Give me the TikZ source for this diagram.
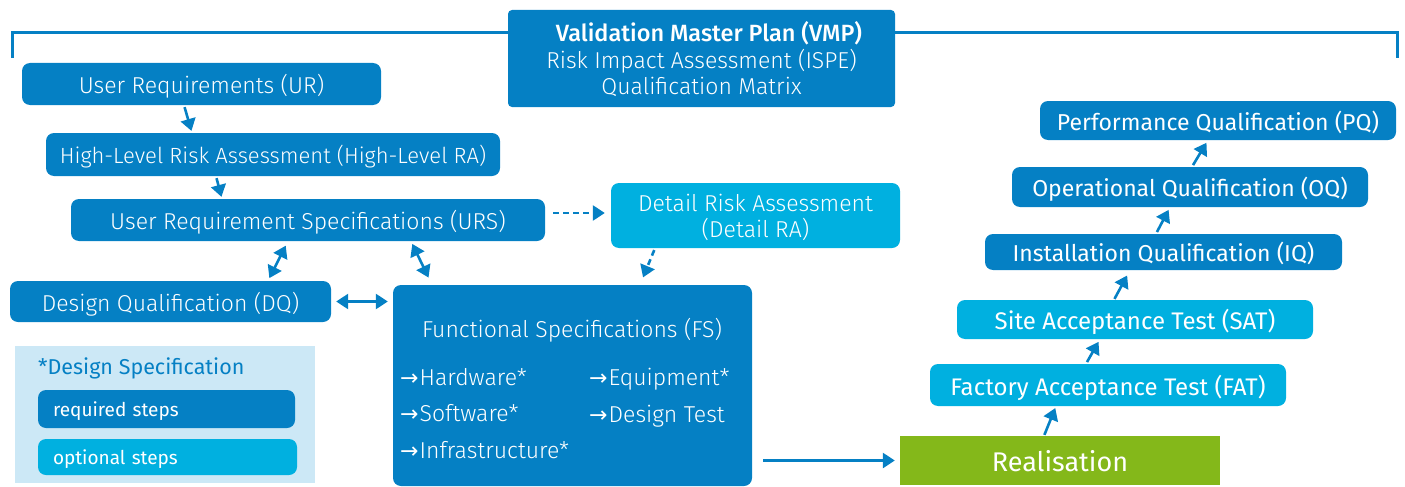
\documentclass[tikz,border=0pt]{standalone}
\usepackage{fontspec}
\setmainfont{Fira Sans}
\newfontfamily\lite{Fira Sans Light}
\newfontfamily\med{Fira Sans Medium}
\newfontfamily\arrf{DejaVu Sans}
\newcommand{\ar}{{\arrf\fontsize{22}{24}\selectfont →}\hspace{1pt}}
\usetikzlibrary{arrows.meta,calc}
\definecolor{dblue}{HTML}{0580C4}
\definecolor{lblue}{HTML}{00B0E0}
\definecolor{legbg}{HTML}{CCE8F6}
\definecolor{green}{HTML}{84B81A}
\tikzset{
  box/.style={rounded corners=8pt, inner sep=0pt, text=white, align=center, text depth=0pt},
  dbox/.style={box, fill=dblue},
  lbox/.style={box, fill=lblue},
  con/.style={draw=dblue, line width=2.6pt, -{Triangle[length=12pt,width=15pt]}},
  dcon/.style={draw=dblue, line width=2.6pt, {Triangle[length=12pt,width=15pt]}-{Triangle[length=12pt,width=15pt]}},
  dashcon/.style={con, dashed, dash pattern=on 6pt off 4pt},
  lt/.style={font=\lite\fontsize{23}{26}\selectfont},
  rt/.style={font=\fontsize{23}{26}\selectfont},
  item/.style={text=white, anchor=base west, inner sep=0pt, lt},
}
\begin{document}
\begin{tikzpicture}[x=1pt,y=-1pt]
\useasboundingbox (0,0) rectangle (1405,487);
% bracket
\draw[dblue, line width=3pt] (12,58) -- (12,33) -- (1397,33) -- (1397,58);
% VMP
\node[box, fill=dblue, rounded corners=4pt, minimum width=387pt, minimum height=97pt] (vmp) at (701.5,58.5) {};
\node[text=white, inner sep=0pt, anchor=base, font=\med\fontsize{23.5}{26}\selectfont] (vmp1) at (709,42) {Validation Master Plan (VMP)};
\node[text=white, inner sep=0pt, anchor=base, lt] (vmp2) at (701.5,68) {Risk Impact Assessment (ISPE)};
\node[text=white, inner sep=0pt, anchor=base, lt] (vmp3) at (701.5,94) {Qualification Matrix};
% left column
\node[dbox, minimum width=359pt, minimum height=42pt, lt] (ur) at (201.5,84) {User Requirements (UR)};
\node[dbox, minimum width=454pt, minimum height=43pt, font=\lite\fontsize{22}{24}\selectfont] (hlra) at (273,154.5) {High-Level Risk Assessment (High-Level RA)};
\node[dbox, minimum width=474pt, minimum height=42pt, lt] (urs) at (308,220) {User Requirement Specifications (URS)};
\node[lbox, minimum width=289pt, minimum height=65pt, lt] (dra) at (755.5,215.5) {Detail Risk Assessment\\(Detail RA)};
\node[dbox, minimum width=321pt, minimum height=41pt, lt] (dq) at (170.5,301.5) {Design Qualification (DQ)};
\node[dbox, minimum width=359pt, minimum height=201pt] (fs) at (572.5,385.5) {};
\node[text=white, inner sep=0pt, anchor=base, lt] (fst) at (572,337) {Functional Specifications (FS)};
\node[item] (hw) at (400,385) {\ar Hardware*};
\node[item] (sw) at (400,421) {\ar Software*};
\node[item] (inf) at (400,458) {\ar Infrastructure*};
\node[item] (eq) at (589,385) {\ar Equipment*};
\node[item] (dt) at (589,422) {\ar Design Test};
% legend
\node[fill=legbg, minimum width=300pt, minimum height=137pt, inner sep=0pt] (leg) at (165,414.5) {};
\node[text=dblue, anchor=base west, inner sep=0pt, font=\fontsize{21.5}{24}\selectfont] (legt) at (38,374) {*Design Specification};
\node[dbox, minimum width=257pt, minimum height=38pt, text width=227pt, align=left, font=\fontsize{19}{22}\selectfont] (req) at (166.5,409) {required steps};
\node[lbox, minimum width=259pt, minimum height=36pt, text width=229pt, align=left, font=\fontsize{19}{22}\selectfont] (opt) at (167.5,457) {optional steps};
% right column
\node[fill=green, text=white, inner sep=0pt, text depth=0pt, minimum width=320pt, minimum height=49pt, font=\fontsize{27}{30}\selectfont] (real) at (1060,460.5) {Realisation};
\node[lbox, minimum width=356pt, minimum height=42pt, font=\fontsize{24}{26}\selectfont] (fat) at (1108,385) {Factory Acceptance Test (FAT)};
\node[lbox, minimum width=356pt, minimum height=39pt, font=\fontsize{24}{26}\selectfont] (sat) at (1135,319.5) {Site Acceptance Test (SAT)};
\node[dbox, minimum width=357pt, minimum height=36pt, rt] (iq) at (1163.5,252) {Installation Qualification (IQ)};
\node[dbox, minimum width=356pt, minimum height=40pt, rt] (oq) at (1190,187) {Operational Qualification (OQ)};
\node[dbox, minimum width=356pt, minimum height=39pt, rt] (pq) at (1218,120.5) {Performance Qualification (PQ)};
% connectors
\draw[con, shorten <=2pt, shorten >=2pt] ([xshift=-17.5pt]ur.south) -- ([xshift=-81pt]hlra.north);
\draw[con, shorten <=2pt, shorten >=2pt] ([xshift=-57pt]hlra.south) -- ([xshift=-86pt]urs.north);
\draw[dcon, shorten <=5pt, shorten >=3pt] ([xshift=-20pt]urs.south) -- ([xshift=97.5pt]dq.north);
\draw[dcon, shorten <=3pt, shorten >=8pt] ([xshift=103pt]urs.south) -- ([xshift=-140.5pt]fs.north);
\draw[dcon, shorten <=5pt, shorten >=5pt] (dq.east) -- (dq.east -| fs.west);
\draw[dashcon, shorten <=8pt, shorten >=6pt] ([yshift=7pt]urs.east) -- ([yshift=7pt]urs.east -| dra.west);
\draw[dashcon, shorten <=2pt, shorten >=8pt] ([xshift=-100.5pt]dra.south) -- ([xshift=67.5pt]fs.north);
\draw[con, shorten <=11pt, shorten >=5pt] (real.west -| fs.east) -- (real.west);
\draw[con, shorten <=1pt, shorten >=2pt] ([xshift=-16pt]real.north) -- ([xshift=-52pt]fat.south);
\draw[con, shorten <=2pt, shorten >=3pt] ([xshift=-22pt]fat.north) -- ([xshift=-35pt]sat.south);
\draw[con, shorten <=1pt, shorten >=6pt] ([xshift=-21pt]sat.north) -- ([xshift=-33.5pt]iq.south);
\draw[con, shorten <=2pt, shorten >=3pt] ([xshift=-7.5pt]iq.north) -- ([xshift=-20pt]oq.south);
\draw[con, shorten <=2pt, shorten >=3pt] ([xshift=2pt]oq.north) -- ([xshift=-10pt]pq.south);
\end{tikzpicture}
\end{document}
